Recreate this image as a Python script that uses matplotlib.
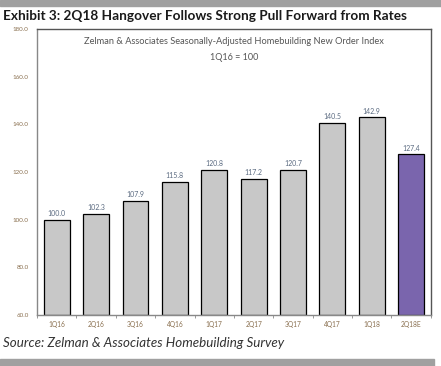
import matplotlib.pyplot as plt
import numpy as np

quarters = ['1Q16', '2Q16', '3Q16', '4Q16', '1Q17', '2Q17', '3Q17', '4Q17', '1Q18', '2Q18E']
index_vals = [100.0, 102.3, 107.9, 115.8, 120.8, 117.2, 120.7, 140.5, 142.9, 127.4]
y_ticks = [60, 80, 100, 120, 140, 160, 180]

plt.rcParams['font.family'] = ['Lato', 'DejaVu Sans']

fig = plt.figure(figsize=(4.41, 3.66), dpi=100)
ax = fig.add_axes([0.084, 0.139, 0.893, 0.782])

x = np.arange(len(quarters))
colors = ['#c8c8c8'] * (len(quarters) - 1) + ['#7a65ad']
ax.bar(x, [v - 60 for v in index_vals], bottom=60, width=0.66, color=colors,
       edgecolor='black', linewidth=0.9, zorder=2)

for xi, v in zip(x, index_vals):
    ax.text(xi, v + 1.2, f'{v:.1f}', ha='center', va='bottom', fontsize=5, color='#5a6a80')

ax.set_xlim(-0.5, len(quarters) - 0.5)
ax.set_ylim(60, 180)
ax.set_yticks(y_ticks)
ax.set_yticklabels([f'{t:.1f}' for t in y_ticks], fontsize=4.5, color='#8a7050')
ax.set_xticks(x)
ax.set_xticklabels(quarters, fontsize=4.8, color='#8a7050')
ax.tick_params(axis='x', length=0, pad=4)
ax.tick_params(axis='y', length=0, pad=6)
ax.set_xticks(np.arange(-0.5, len(quarters), 1), minor=True)
ax.tick_params(axis='x', which='minor', length=2, color='#888888')

for side in ['left', 'bottom']:
    ax.spines[side].set_color('#888888')
    ax.spines[side].set_linewidth(1.0)
for side in ['top', 'right']:
    ax.spines[side].set_color('#555555')
    ax.spines[side].set_linewidth(1.0)

ax.text(0.5, 0.955, 'Zelman & Associates Seasonally-Adjusted Homebuilding New Order Index',
        transform=ax.transAxes, ha='center', va='center', fontsize=6.7, color='#555555')
ax.text(0.5, 0.90, '1Q16 = 100', transform=ax.transAxes, ha='center', va='center',
        fontsize=6.5, color='#555555')

# gray bands top and bottom
fig.patches.append(plt.Rectangle((0, 0.983), 1, 0.017, transform=fig.transFigure,
                                 color='#a0a0a0', zorder=0))
fig.patches.append(plt.Rectangle((0.0, 0.0), 0.985, 0.02, transform=fig.transFigure,
                                 color='#a0a0a0', zorder=0))

fig.text(0.007, 0.957, 'Exhibit 3: 2Q18 Hangover Follows Strong Pull Forward from Rates',
         ha='left', va='center', fontsize=9.8, fontweight='bold', color='#1a1a1a')
fig.text(0.007, 0.063, 'Source: Zelman & Associates Homebuilding Survey',
         ha='left', va='center', fontsize=9.6, style='italic', color='#333333')

plt.savefig('out.png', dpi=100)
